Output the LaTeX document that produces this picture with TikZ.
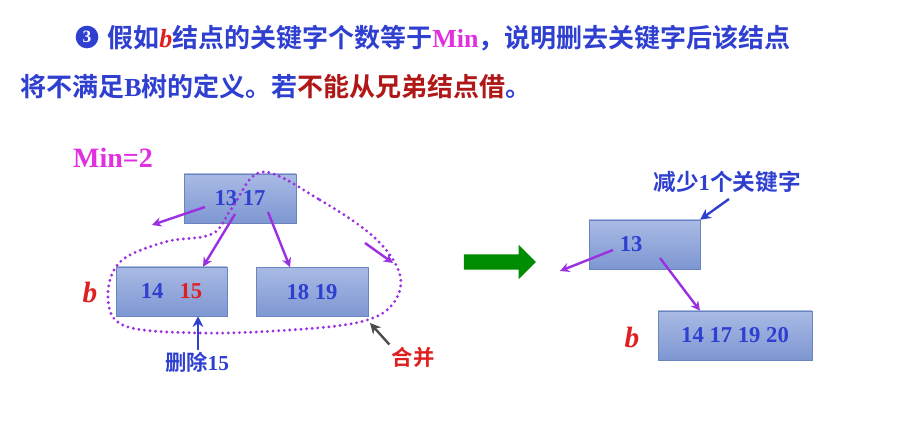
\documentclass[tikz,border=0pt]{standalone}
\usepackage{fontspec}
\setmainfont{Liberation Serif}
\newfontfamily\cjk{Noto Sans CJK SC}[BoldFont={* Bold}]
\usetikzlibrary{arrows.meta,shapes.arrows}
\definecolor{tblue}{HTML}{2F3FD0}
\definecolor{tmag}{HTML}{E030E0}
\definecolor{tred}{HTML}{E02020}
\definecolor{dred}{HTML}{B01818}
\definecolor{purp}{HTML}{9A30E0}
\definecolor{bfill1}{HTML}{A9BAE4}
\definecolor{bfill2}{HTML}{7E97D2}
\definecolor{bdraw}{HTML}{6A84BE}
\tikzset{
  keybox/.style={draw=bdraw, top color=bfill1, bottom color=bfill2, minimum height=36.75pt, inner sep=0pt, font=\bfseries\fontsize{17}{19}\selectfont, text=tblue},
  parr/.style={-{Stealth[length=7pt,width=7pt]}, purp, line width=1.8pt},
  lbl/.style={font=\bfseries\fontsize{16}{18}\selectfont, inner sep=0pt},
}
\begin{document}
\begin{tikzpicture}[x=0.75pt,y=-0.75pt]
\useasboundingbox (0,0) rectangle (901,434);
% title
\node[circle, fill=tblue, text=white, inner sep=0pt, minimum size=17pt, font=\bfseries\fontsize{13}{14}\selectfont] (num) at (87,37) {3};
\node[anchor=west, inner sep=0pt, font=\bfseries\fontsize{19.5}{22}\selectfont, text=tblue] (t1) at (107,38)
 {\cjk 假如\textcolor{tred}{\rmfamily\bfseries\itshape b}结点的关键字个数等于\textcolor{tmag}{\rmfamily\bfseries Min}，说明删去关键字后该结点};
\node[anchor=west, inner sep=0pt, font=\bfseries\fontsize{19.5}{22}\selectfont, text=tblue] (t2) at (20,87)
 {\cjk 将不满足{\rmfamily\bfseries B}树的定义。若\textcolor{dred}{不能从兄弟结点借}。};
\node[lbl, text=tmag, font=\bfseries\fontsize{21}{23}\selectfont] (min) at (113,158) {Min=2};
% boxes
\node[keybox, minimum width=84pt] (top) at (240,198.5) {13 17};
\node[keybox, minimum width=83pt] (b) at (171.5,291.5) {14\hspace{12pt}\textcolor{tred}{15}};
\node[keybox, minimum width=84pt] (c) at (312,292) {18 19};
\node[keybox, minimum width=83pt] (r1) at (644.5,244.5) {\hspace{-20pt}13};
\node[keybox, minimum width=115.5pt] (r2) at (735,335.5) {14 17 19 20};
% dotted merge curve
\draw[purp, line width=2.4pt, line cap=round, dash pattern=on 0pt off 4.2pt] plot[smooth cycle, tension=0.6] coordinates {
 (262,172) (320,200) (375,238) (400,275) (392,305) (360,322) (290,330) (200,333) (125,326) (108,298) (120,262) (165,242) (212,234) (232,208)};
\coordinate (m1) at (365,243);
\coordinate (m2) at (393,263);
\draw[parr] (m1) -- (m2);
% tree arrows
\coordinate (tl) at (152,225);
\draw[parr] (205,207) -- (tl);
\draw[parr] (235,214) -- (b.north -| 203,0);
\draw[parr] (268,212) -- (c.north -| 290,0);
% labels
\node[text=tred, font=\bfseries\itshape\fontsize{22}{24}\selectfont] (bl) at (90,292) {b};
\node[lbl, text=tblue] (del) at (197,362) {\cjk 删除\rmfamily 15};
\draw[-{Stealth[length=8pt,width=8pt]}, tblue, line width=2pt] (198,350) -- (b.south -| 198,0);
\node[lbl, text=tred] (merge) at (413,357) {\cjk 合并};
\draw[-{Stealth[length=8pt,width=8pt]}, gray!60!black, line width=1.8pt] (merge.north west) ++(-2,-2) -- (370,323);
% big green arrow
\node[single arrow, draw=none, fill=green!55!black, minimum height=54pt, minimum width=26pt, single arrow head extend=4pt, inner sep=3pt] (ga) at (496,262) {};
% right side
\node[lbl, text=tblue, font=\bfseries\fontsize{17}{19}\selectfont] (less) at (727,182) {\cjk 减少\rmfamily 1\cjk 个关键字};
\draw[-{Stealth[length=8pt,width=8pt]}, tblue, line width=1.8pt] (729,199) -- (r1.north east);
\coordinate (rl) at (560,271);
\draw[parr] (613,250) -- (rl);
\draw[parr] (660,258) -- (r2.north -| 700,0);
\node[text=tred, font=\bfseries\itshape\fontsize{22}{24}\selectfont] (bl2) at (632,337) {b};
\end{tikzpicture}
\end{document}
